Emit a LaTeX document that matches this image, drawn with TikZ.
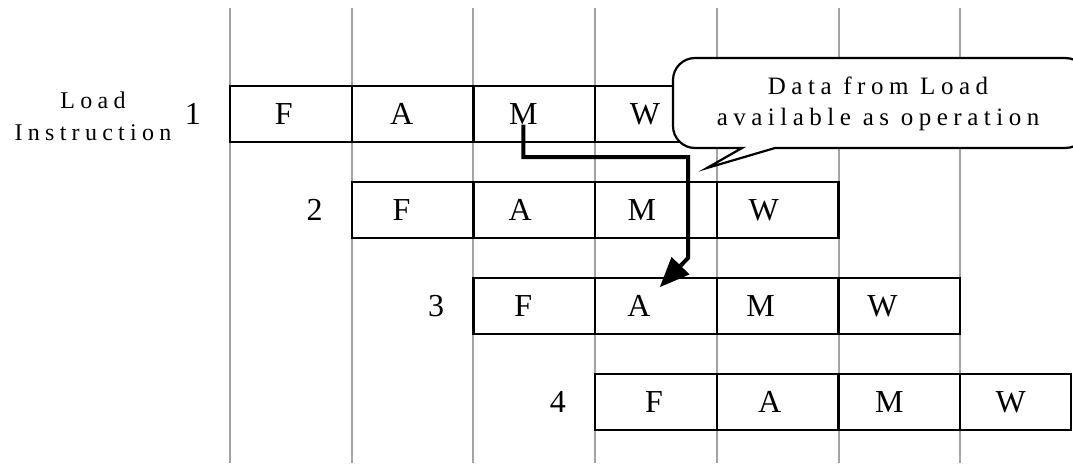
\documentclass[tikz,border=0pt]{standalone}
\usepackage{fontspec}
\setmainfont{Liberation Serif}
\newfontfamily\spacedfont[LetterSpace=22]{Liberation Serif}
\usetikzlibrary{positioning, arrows.meta}

\begin{document}
\begin{tikzpicture}[x=1pt, y=-1pt,
		cell/.style={draw, line width=2.2pt, fill=white, minimum width=121.7pt, minimum height=56pt, inner sep=0pt, outer sep=0pt},
		tag/.style={xshift=-11pt, inner sep=0pt, font=\fontsize{32}{36}\selectfont},
		num/.style={inner sep=0pt, font=\fontsize{32}{36}\selectfont},
		note/.style={inner sep=0pt, align=center, font=\spacedfont\fontsize{25}{31}\selectfont},
		bubble/.style={draw, line width=2.2pt, fill=white},
		slot/.style={draw=black!36, line width=2pt},
		flow/.style={line width=4pt, -{Triangle[length=30pt,width=24pt]}}]
				\useasboundingbox (0,0) rectangle (1073,463);
				% clock cycles
				\draw[slot] (230,8) -- (230,463) (351.7,8) -- (351.7,463)
					(473.4,8) -- (473.4,463) (595.1,8) -- (595.1,463)
					(716.8,8) -- (716.8,463) (838.5,8) -- (838.5,463)
					(960.2,8) -- (960.2,463);
				% instruction 1
				\node[cell, anchor=west, label={[tag, xshift=4pt]center:F}] (f1) at (230,114) {};
				\node[cell, right=0pt of f1, label={[tag]center:A}] (a1) {};
				\node[cell, right=0pt of a1, label={[tag, name=m1t]center:M}] (m1) {};
				\node[cell, right=0pt of m1, label={[tag]center:W}] (w1) {};
				\node[num, left=29pt of f1] (n1) {1};
				\node[note, font=\spacedfont\fontsize{24}{32}\selectfont] (load) at (93,116) {Load\\Instruction};
				% instruction 2
				\node[cell, anchor=west, label={[tag]center:F}] (f2) at (351.7,210) {};
				\node[cell, right=0pt of f2, label={[tag, xshift=-3pt]center:A}] (a2) {};
				\node[cell, right=0pt of a2, label={[tag, xshift=-3pt]center:M}] (m2) {};
				\node[cell, right=0pt of m2, label={[tag, xshift=-3pt]center:W}] (w2) {};
				\node[num, left=29pt of f2] (n2) {2};
				% instruction 3
				\node[cell, anchor=west, label={[tag]center:F}] (f3) at (473.4,306) {};
				\node[cell, right=0pt of f3, label={[tag, xshift=-6pt, name=a3t]center:A}] (a3) {};
				\node[cell, right=0pt of a3, label={[tag, xshift=-6pt]center:M}] (m3) {};
				\node[cell, right=0pt of m3, label={[tag, xshift=-6pt]center:W}] (w3) {};
				\node[num, left=29pt of f3] (n3) {3};
				% instruction 4
				\node[cell, anchor=west, label={[tag, xshift=9pt]center:F}] (f4) at (595.1,402) {};
				\node[cell, right=0pt of f4, label={[tag, xshift=3pt]center:A}] (a4) {};
				\node[cell, right=0pt of a4, label={[tag, xshift=1pt]center:M}] (m4) {};
				\node[cell, right=0pt of m4, minimum width=111pt, label={[tag, xshift=6pt]center:W}] (w4) {};
				\node[num, left=29pt of f4] (n4) {4};
				% callout
				\draw[bubble] (742,148) -- (707,168) -- (775,148) -- (1065,148)
					arc[start angle=90, end angle=0, radius=25] -- (1090,83)
					arc[start angle=0, end angle=-90, radius=25] -- (695,58)
					arc[start angle=-90, end angle=-180, radius=22] -- (673,126)
					arc[start angle=180, end angle=90, radius=22] -- cycle;
				\node[note] (info) at (878,104) {Data from Load\\available as operation};
				% forwarding
				\coordinate (hop) at (688,157);
				\coordinate (drop) at (688,258);
				\draw[flow] (m1t.south) |- (hop) -- (drop) -- ([xshift=9pt, yshift=8pt]a3t.north east);
			\end{tikzpicture}
\end{document}
